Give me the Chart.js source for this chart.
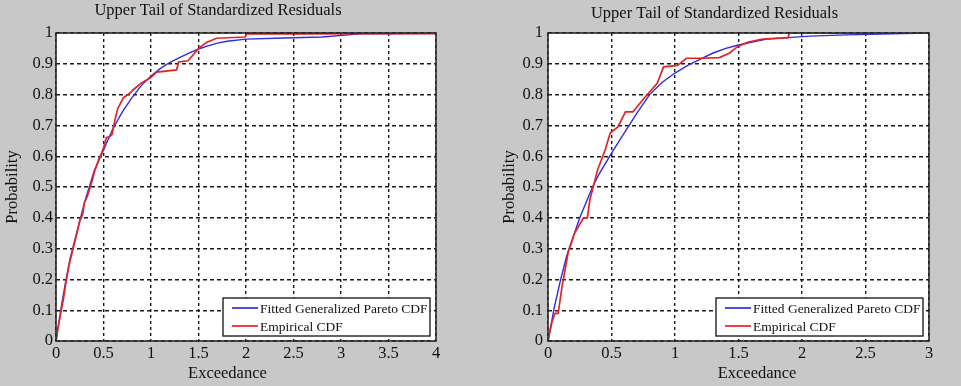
<!DOCTYPE html>
<html>
<head>
<meta charset="utf-8">
<script src="https://cdn.jsdelivr.net/npm/chart.js@4.4.1/dist/chart.umd.min.js"></script>
<style>
  html, body { margin: 0; padding: 0; background: #c8c8c8; }
  body { width: 961px; height: 386px; position: relative; overflow: hidden; }
  .panel { position: absolute; top: 0; height: 386px; }
</style>
</head>
<body>
<div class="panel" style="left:0;width:472px"><canvas id="left" width="472" height="386"></canvas></div>
<div class="panel" style="left:500px;width:461px"><canvas id="right" width="461" height="386"></canvas></div>
<script>
// Upper tail of standardized residuals — two GPD fit panels

const TITLE = 'Upper Tail of Standardized Residuals';
const X_LABEL = 'Exceedance';
const Y_LABEL = 'Probability';
const SERIES_NAMES = ['Fitted Generalized Pareto CDF', 'Empirical CDF'];

const yTickVals = [0, 0.1, 0.2, 0.3, 0.4, 0.5, 0.6, 0.7, 0.8, 0.9, 1];
const leftXTicks = [0, 0.5, 1, 1.5, 2, 2.5, 3, 3.5, 4];
const rightXTicks = [0, 0.5, 1, 1.5, 2, 2.5, 3];

// left panel
const leftFitX = [0, 0.05, 0.1, 0.15, 0.2, 0.25, 0.3, 0.35, 0.4, 0.45, 0.5, 0.6, 0.7, 0.8, 0.9, 1.0,
  1.1, 1.2, 1.3, 1.4, 1.5, 1.6, 1.7, 1.8, 2.0, 2.4, 2.8, 3.2, 4];
const leftFitY = [0, 0.1, 0.19, 0.27, 0.33, 0.39, 0.45, 0.5, 0.55, 0.585, 0.62, 0.69, 0.745, 0.79, 0.83, 0.86,
  0.885, 0.905, 0.92, 0.935, 0.948, 0.958, 0.967, 0.973, 0.98, 0.984, 0.987, 0.997, 0.999];
const leftEmpX = [0, 0.02, 0.06, 0.08, 0.11, 0.14, 0.18, 0.22, 0.25, 0.28, 0.3, 0.33, 0.35, 0.38, 0.41, 0.45,
  0.48, 0.5, 0.53, 0.57, 0.59, 0.62, 0.65, 0.71, 0.78, 0.81, 0.9, 0.99, 1.06, 1.27, 1.29, 1.39, 1.46, 1.52,
  1.59, 1.69, 1.99, 2.01, 2.6, 3.2, 4];
const leftEmpY = [0, 0.04, 0.107, 0.14, 0.2, 0.25, 0.3, 0.35, 0.39, 0.41, 0.45, 0.47, 0.49, 0.52, 0.555, 0.59,
  0.61, 0.627, 0.66, 0.665, 0.67, 0.717, 0.755, 0.79, 0.805, 0.815, 0.838, 0.854, 0.873, 0.88, 0.906, 0.91,
  0.935, 0.955, 0.97, 0.983, 0.987, 0.997, 0.997, 0.998, 0.998];

// right panel
const rightFitX = [0, 0.05, 0.1, 0.15, 0.2, 0.25, 0.3, 0.35, 0.4, 0.5, 0.6, 0.7, 0.8, 0.9, 1.0, 1.1, 1.2,
  1.3, 1.4, 1.5, 1.72, 2.06, 2.35, 2.98];
const rightFitY = [0, 0.11, 0.2, 0.28, 0.34, 0.4, 0.45, 0.5, 0.54, 0.61, 0.675, 0.74, 0.8, 0.84, 0.87, 0.895,
  0.915, 0.935, 0.95, 0.961, 0.98, 0.99, 0.994, 1.0];
const rightEmpX = [0, 0.03, 0.055, 0.08, 0.11, 0.16, 0.21, 0.28, 0.31, 0.33, 0.35, 0.39, 0.45, 0.49, 0.55,
  0.61, 0.67, 0.7, 0.76, 0.86, 0.91, 1.02, 1.09, 1.22, 1.35, 1.43, 1.49, 1.57, 1.69, 1.89, 1.9, 3];
const rightEmpY = [0, 0.06, 0.09, 0.09, 0.175, 0.29, 0.35, 0.4, 0.4, 0.46, 0.49, 0.555, 0.62, 0.675, 0.695,
  0.744, 0.744, 0.76, 0.79, 0.837, 0.89, 0.895, 0.918, 0.918, 0.92, 0.935, 0.955, 0.97, 0.98, 0.985, 1.0, 1.0];

const SERIF = "'Liberation Serif', 'DejaVu Serif', serif";
const FONT_SIZE = 16.5;
const LINE_H = FONT_SIZE * 1.2;
const BLUE = 'rgb(45, 45, 225)';
const RED = 'rgb(228, 35, 35)';

const toPoints = (xs, ys) => xs.map((x, i) => ({ x: x, y: ys[i] }));

// white plot box, black frame, boxed legend bottom-right
const frameAndLegend = {
  id: 'frameAndLegend',
  beforeDraw(chart) {
    const { ctx, chartArea: a } = chart;
    ctx.save();
    ctx.fillStyle = '#ffffff';
    ctx.fillRect(a.left, a.top, a.right - a.left, a.bottom - a.top);
    ctx.restore();
  },
  afterDraw(chart) {
    const { ctx, chartArea: a } = chart;
    ctx.save();
    ctx.strokeStyle = '#2a2a2a';
    ctx.lineWidth = 1.6;
    ctx.strokeRect(a.left, a.top, a.right - a.left, a.bottom - a.top);

    // legend
    const w = 207, h = 38;
    const lx = a.right - 6 - w, ly = a.bottom - 5 - h;
    ctx.fillStyle = '#ffffff';
    ctx.fillRect(lx, ly, w, h);
    ctx.strokeStyle = '#222';
    ctx.lineWidth = 1.4;
    ctx.strokeRect(lx, ly, w, h);
    ctx.font = "13.5px " + SERIF;
    ctx.textBaseline = 'middle';
    ctx.textAlign = 'left';
    chart.data.datasets.forEach((ds, i) => {
      const y = ly + 10 + i * 18;
      ctx.strokeStyle = ds.borderColor;
      ctx.lineWidth = 1.7;
      ctx.beginPath();
      ctx.moveTo(lx + 9, y);
      ctx.lineTo(lx + 35, y);
      ctx.stroke();
      ctx.fillStyle = '#111';
      ctx.fillText(ds.label, lx + 37, y + 1);
    });
    ctx.restore();
  }
};

function makeChart(canvasId, cfg) {
  const ctx = document.getElementById(canvasId).getContext('2d');
  return new Chart(ctx, {
    type: 'line',
    data: {
      datasets: [
        {
          label: SERIES_NAMES[0],
          data: toPoints(cfg.fitX, cfg.fitY),
          borderColor: BLUE,
          borderWidth: 1.4,
          pointRadius: 0,
          tension: 0,
          order: 2
        },
        {
          label: SERIES_NAMES[1],
          data: toPoints(cfg.empX, cfg.empY),
          borderColor: RED,
          borderWidth: 1.7,
          pointRadius: 0,
          tension: 0,
          order: 1
        }
      ]
    },
    options: {
      responsive: false,
      animation: false,
      layout: { padding: { left: 0, right: cfg.padRight, top: 0, bottom: 0 } },
      plugins: {
        legend: { display: false },
        tooltip: { enabled: false },
        title: {
          display: true,
          text: TITLE,
          color: '#111',
          font: { family: SERIF, size: FONT_SIZE, weight: 'normal' },
          padding: { top: cfg.titleTop, bottom: 33 - LINE_H - cfg.titleTop }
        }
      },
      scales: {
        x: {
          type: 'linear',
          min: cfg.xTicks[0],
          max: cfg.xTicks[cfg.xTicks.length - 1],
          afterFit: s => { s.height = 45; },
          afterBuildTicks: s => { s.ticks = cfg.xTicks.map(v => ({ value: v })); },
          grid: { color: '#1a1a1a', lineWidth: 1.4, drawTicks: false },
          border: { display: false, dash: [3, 3] },
          ticks: {
            color: '#111',
            padding: 3,
            maxRotation: 0,
            autoSkip: false,
            font: { family: SERIF, size: FONT_SIZE },
            callback: v => String(v)
          },
          title: {
            display: true,
            text: cfg.xLabel,
            color: '#111',
            font: { family: SERIF, size: FONT_SIZE },
            padding: { top: 0, bottom: 2 }
          }
        },
        y: {
          type: 'linear',
          min: 0,
          max: 1,
          afterFit: s => { s.width = cfg.yWidth; },
          afterBuildTicks: s => { s.ticks = yTickVals.map(v => ({ value: v })); },
          grid: { color: '#1a1a1a', lineWidth: 1.4, drawTicks: false },
          border: { display: false, dash: [4, 3] },
          ticks: {
            color: '#111',
            padding: cfg.yPad,
            autoSkip: false,
            font: { family: SERIF, size: FONT_SIZE },
            callback: v => String(v)
          },
          title: {
            display: true,
            text: Y_LABEL,
            color: '#111',
            font: { family: SERIF, size: FONT_SIZE },
            padding: { top: cfg.yTitlePad, bottom: 0 }
          }
        }
      }
    },
    plugins: [frameAndLegend]
  });
}

makeChart('left', {
  fitX: leftFitX, fitY: leftFitY, empX: leftEmpX, empY: leftEmpY,
  xTicks: leftXTicks, xLabel: X_LABEL + '         ',
  padRight: 36, yWidth: 56, yPad: 3, yTitlePad: 3, titleTop: 1
});

makeChart('right', {
  fitX: rightFitX, fitY: rightFitY, empX: rightEmpX, empY: rightEmpY,
  xTicks: rightXTicks, xLabel: '         ' + X_LABEL,
  padRight: 32, yWidth: 48, yPad: 5, yTitlePad: 0, titleTop: 4
});
</script>
</body>
</html>
